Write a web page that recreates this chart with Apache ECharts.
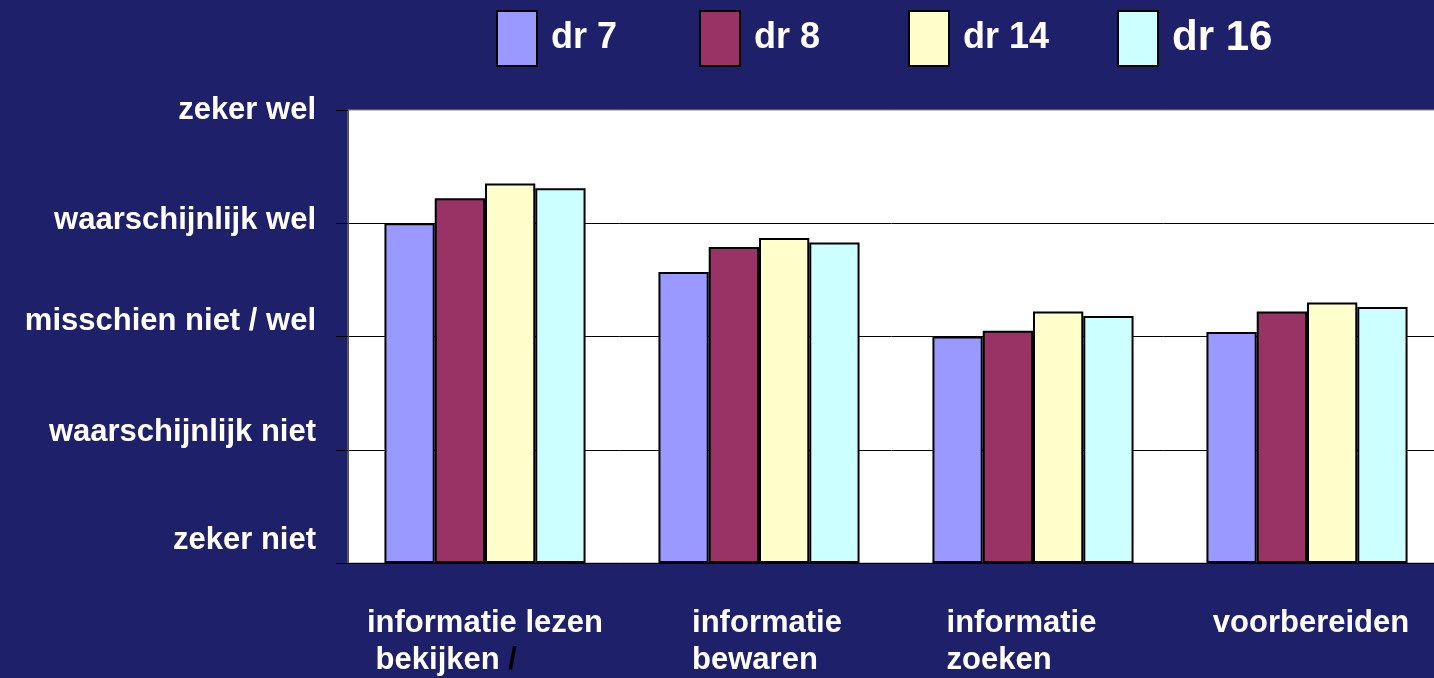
<!DOCTYPE html>
<html>
<head>
<meta charset="utf-8">
<script src="https://cdn.jsdelivr.net/npm/echarts@6/dist/echarts.min.js"></script>
<style>
  html, body { margin: 0; padding: 0; background: #1f206a; }
  #chart { width: 1434px; height: 678px; }
</style>
</head>
<body>
<div id="chart"></div>
<script>
const categories = ['informatie lezen\n bekijken /', 'informatie\nbewaren', 'informatie\nzoeken', 'voorbereiden'];
const yLabels = ['zeker niet', 'waarschijnlijk niet', 'misschien niet / wel', 'waarschijnlijk wel', 'zeker wel'];
const seriesNames = ['dr 7', 'dr 8', 'dr 14', 'dr 16'];
const dr7 = [3.00, 2.57, 2.00, 2.04];
const dr8 = [3.22, 2.79, 2.05, 2.22];
const dr14 = [3.35, 2.87, 2.22, 2.30];
const dr16 = [3.31, 2.83, 2.18, 2.26];
const colors = ['#9999ff', '#993366', '#ffffcc', '#ccffff'];

const FONT = '"Liberation Sans", Arial, sans-serif';
const values = [dr7, dr8, dr14, dr16];

// legend boxes sit at uneven spots in the original
const legendLeft = [496, 699, 908, 1117];
const legendFont = [36, 36, 36, 42];
const legendLift = [2, 2, 5, 0];

// padding per category to mimic the left-aligned text blocks
const xPad = [[0, 0, 0, 0], [0, 0, 0, 16], [0, 23, 0, 0], [0, 0, 0, 8]];
// y labels drift upward towards the bottom
const yLift = [23, 17, 15, 3, 0];

const baseText = { color: '#fff', fontWeight: 'bold', fontSize: 31, fontFamily: FONT };

const xRich = {
  sl: Object.assign({}, baseText, { color: '#000', align: 'left', lineHeight: 37 })
};
xPad.forEach((p, i) => {
  xRich['c' + i] = Object.assign({}, baseText, { align: 'left', lineHeight: 37, padding: p });
});

const yRich = {};
yLift.forEach((s, i) => {
  yRich['y' + i] = Object.assign({}, baseText, { padding: [0, 0, s * 2, 0] });
});

const chart = echarts.init(document.getElementById('chart'));

chart.setOption({
  backgroundColor: '#1f206a',
  animation: false,
  legend: seriesNames.map((name, i) => ({
    data: [name],
    left: legendLeft[i],
    top: 10,
    padding: 0,
    icon: 'rect',
    itemWidth: 40,
    itemHeight: 55,
    itemStyle: { borderColor: '#000', borderWidth: 2 },
    textStyle: {
      color: '#fff', fontWeight: 'bold', fontFamily: FONT,
      fontSize: legendFont[i],
      padding: [0, 0, legendLift[i] * 2, 9]
    }
  })),
  grid: {
    left: 348, top: 110, width: 1096, height: 453,
    outerBoundsMode: 'none',
    containLabel: false,
    show: true, backgroundColor: '#fff', borderColor: '#888', borderWidth: 1
  },
  xAxis: {
    type: 'category',
    data: categories,
    axisLine: { lineStyle: { color: '#000', width: 1 } },
    axisTick: { show: false },
    axisLabel: {
      margin: 42,
      interval: 0,
      formatter: (value, idx) => value.split('\n').map(line => {
        const tag = 'c' + idx;
        if (line.endsWith('/')) return `{${tag}|${line.slice(0, -1)}}{sl|/}`;
        return `{${tag}|${line}}`;
      }).join('\n'),
      rich: xRich
    }
  },
  yAxis: {
    type: 'value',
    min: 0, max: 4, interval: 1,
    axisLine: { show: true, lineStyle: { color: '#555', width: 1 } },
    axisTick: { show: true, length: 12, lineStyle: { color: '#000' } },
    splitLine: { show: true, showMaxLine: false, lineStyle: { color: '#000', width: 1 } },
    axisLabel: {
      margin: 32,
      formatter: v => `{y${v}|${yLabels[v]}}`,
      rich: yRich
    }
  },
  series: seriesNames.map((name, i) => ({
    name,
    type: 'bar',
    data: values[i],
    barGap: '0%',
    barCategoryGap: '26.6%',
    itemStyle: { color: colors[i], borderColor: '#000', borderWidth: 2 }
  }))
});
</script>
</body>
</html>
